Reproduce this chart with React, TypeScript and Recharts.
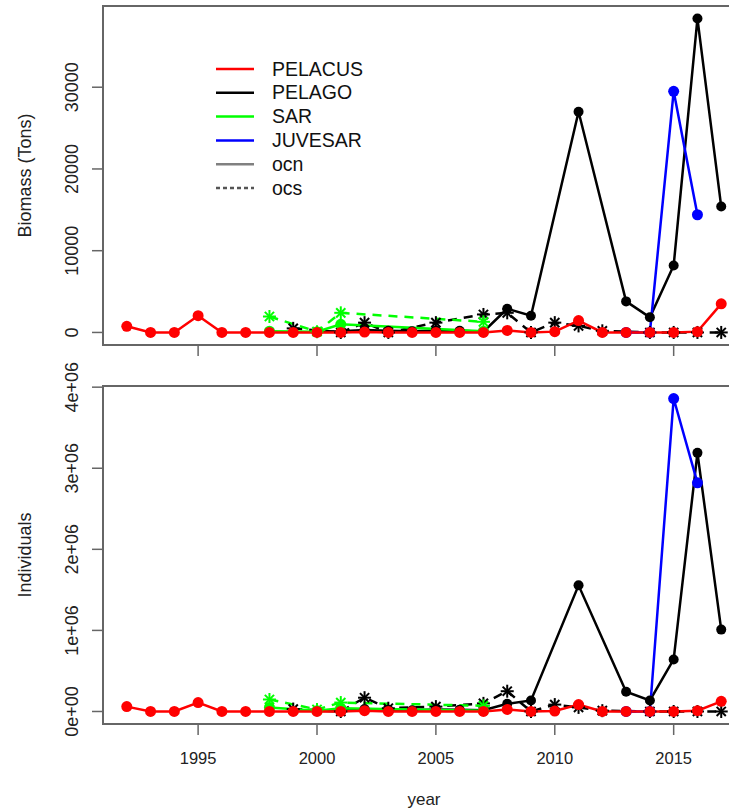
import React from 'react';
import { LineChart, Line, XAxis, YAxis, ReferenceArea, Legend, Label } from 'recharts';

const years = [1992, 1993, 1994, 1995, 1996, 1997, 1998, 1999, 2000, 2001, 2002, 2003, 2004,
  2005, 2006, 2007, 2008, 2009, 2010, 2011, 2012, 2013, 2014, 2015, 2016, 2017];
const yearTicks = [1995, 2000, 2005, 2010, 2015];

// Biomass (Tons)
const pelacusOcnBio = [750, 0, 0, 2050, 0, 0, 0, 0, 0, 0, 50, 0, 0, 0, 0, 0, 250, 0, 100, 1450, 0, 0, 0, 0, 100, 3500];
const pelagoOcnBio = [null, null, null, null, null, null, null, null, 50, 150, 300, 200, 150, 250, 200, 100, 2900, 2050, null, 27000, null, 3800, 1850, 8200, 38400, 15400];
const pelagoOcsBio = [null, null, null, null, null, null, null, 500, null, 0, 1200, 0, null, 1200, null, 2200, 2400, 0, 1200, 800, 200, null, 0, 0, 0, 0];
const sarOcnBio = [null, null, null, null, null, null, 150, null, 100, 1000, null, null, null, null, null, 150, null, null, null, null, null, null, null, null, null, null];
const sarOcsBio = [null, null, null, null, null, null, 1950, null, 100, 2400, null, null, null, null, null, 1300, null, null, null, null, null, null, null, null, null, null];
const juvesarOcnBio = [null, null, null, null, null, null, null, null, null, null, null, null, null, null, null, null, null, null, null, null, null, 0, 0, 29500, 14400, null];
const bioTicks = [0, 10000, 20000, 30000];

// Individuals
const pelacusOcnInd = [60000, 0, 0, 110000, 0, 0, 0, 0, 0, 0, 10000, 0, 0, 0, 0, 0, 25000, 0, 5000, 85000, 0, 0, 0, 0, 10000, 125000];
const pelagoOcnInd = [null, null, null, null, null, null, null, null, 5000, 10000, 30000, 20000, 15000, 25000, 20000, 15000, 95000, 136000, null, 1556000, null, 243000, 136000, 642000, 3190000, 1010000];
const pelagoOcsInd = [null, null, null, null, null, null, null, 30000, null, 0, 170000, 40000, null, 60000, null, 100000, 250000, 0, 85000, 50000, 10000, null, 0, 0, 0, 0];
const sarOcnInd = [null, null, null, null, null, null, 50000, null, 10000, 40000, null, null, null, null, null, 10000, null, null, null, null, null, null, null, null, null, null];
const sarOcsInd = [null, null, null, null, null, null, 148000, null, 25000, 110000, null, null, null, null, null, 70000, null, null, null, null, null, null, null, null, null, null];
const juvesarOcnInd = [null, null, null, null, null, null, null, null, null, null, null, null, null, null, null, null, null, null, null, null, null, 0, 0, 3860000, 2820000, null];
const indTicks = [0, 1000000, 2000000, 3000000, 4000000];

const FONT = '"Liberation Sans", Arial, sans-serif';
const RED = '#ff0000';
const BLACK = '#000000';
const GREEN = '#00ff00';
const BLUE = '#0000ff';
const AXIS = '#666666';

const legendItems = [
  { label: 'PELACUS', color: RED, dash: undefined },
  { label: 'PELAGO', color: BLACK, dash: undefined },
  { label: 'SAR', color: GREEN, dash: undefined },
  { label: 'JUVESAR', color: BLUE, dash: undefined },
  { label: 'ocn', color: '#808080', dash: undefined },
  { label: 'ocs', color: '#555555', dash: '4 3' },
];

function buildRows(series: Record<string, (number | null)[]>) {
  return years.map((year, i) => {
    const row: Record<string, number | null> = { year };
    Object.keys(series).forEach((k) => (row[k] = series[k][i]));
    return row;
  });
}

function paddedDomain(arrays: (number | null)[][]) {
  const vals = arrays.flat().filter((v) => v != null) as number[];
  const lo = Math.min(...vals);
  const hi = Math.max(...vals);
  const pad = (hi - lo) * 0.04;
  return [lo - pad, hi + pad];
}

const starDot = (color: string) => (props: any) => {
  const { cx, cy, index } = props;
  if (cx == null || cy == null) return <g key={`e-${index}`} />;
  const r = 6.5;
  const d = 4.6;
  return (
    <g key={`s-${index}`} stroke={color} strokeWidth={2}>
      <line x1={cx - r} y1={cy} x2={cx + r} y2={cy} />
      <line x1={cx} y1={cy - r} x2={cx} y2={cy + r} />
      <line x1={cx - d} y1={cy - d} x2={cx + d} y2={cy + d} />
      <line x1={cx - d} y1={cy + d} x2={cx + d} y2={cy - d} />
    </g>
  );
};

const circleDot = (color: string) => ({ r: 5.5, fill: color, stroke: color, strokeWidth: 0 });

const makeYTick = (fmt: (v: number) => string) => (props: any) => {
  const { x, y, payload } = props;
  return (
    <text transform={`translate(${x - 14}, ${y}) rotate(-90)`} textAnchor="middle"
      fontFamily={FONT} fontSize={18} fill="#222">
      {fmt(payload.value)}
    </text>
  );
};

const bioFmt = (v: number) => String(v);
const indFmt = (v: number) => (v === 0 ? '0e+00' : `${v / 1000000}e+06`);

const EmptyTick = () => <g />;

const YearTick = (props: any) => {
  const { x, y, payload } = props;
  return (
    <text x={x} y={y + 29} textAnchor="middle" fontFamily={FONT} fontSize={16.5} fill="#222">
      {payload.value}
    </text>
  );
};

const LegendBox = () => (
  <svg width={400} height={200} style={{ display: 'block' }}>
    {legendItems.map((item, i) => {
      const y = 69 + i * 23.8;
      return (
        <g key={item.label}>
          <line x1={216} x2={254} y1={y} y2={y} stroke={item.color} strokeWidth={2.5}
            strokeDasharray={item.dash} />
          <text x={272} y={y + 6.5} fontFamily={FONT} fontSize={19.5} fill="#111">{item.label}</text>
        </g>
      );
    })}
  </svg>
);

interface PanelProps {
  height: number;
  marginTop: number;
  xHeight: number;
  showYears: boolean;
  title: string;
  ticks: number[];
  fmt: (v: number) => string;
  series: Record<string, (number | null)[]>;
  legend?: boolean;
}

const Panel: React.FC<PanelProps> = ({ height, marginTop, xHeight, showYears, title, ticks, fmt, series, legend }) => {
  const data = buildRows(series);
  const yDomain = paddedDomain(Object.values(series));
  return (
    <LineChart width={760} height={height} data={data}
      margin={{ top: marginTop, right: 15, bottom: 0, left: 8 }}>
      <XAxis dataKey="year" type="number" domain={[1991, 2018]} ticks={yearTicks} interval={0}
        allowDataOverflow axisLine={false} tickSize={11} tickMargin={0} height={xHeight}
        tickLine={{ stroke: AXIS, strokeWidth: 1.5 }}
        tick={showYears ? YearTick : EmptyTick}>
        {showYears && (
          <Label content={(p: any) => (
            <text x={p.viewBox.x + p.viewBox.width / 2} y={p.viewBox.y + 81} textAnchor="middle"
              fontFamily={FONT} fontSize={17} fill="#222">year</text>
          )} />
        )}
      </XAxis>
      <YAxis type="number" domain={yDomain} ticks={ticks} interval={0} allowDataOverflow width={95}
        axisLine={false} tickSize={11} tickMargin={0} tickLine={{ stroke: AXIS, strokeWidth: 1.5 }}
        tick={makeYTick(fmt)}>
        <Label content={(p: any) => (
          <text transform={`translate(${p.viewBox.x + 23}, ${p.viewBox.y + p.viewBox.height / 2}) rotate(-90)`}
            textAnchor="middle" fontFamily={FONT} fontSize={18} fill="#222">{title}</text>
        )} />
      </YAxis>
      <ReferenceArea x1={1991} x2={2018} y1={yDomain[0]} y2={yDomain[1]} fill="none"
        stroke={AXIS} strokeWidth={2} ifOverflow="visible" />
      <Line dataKey="pelagoOcs" stroke={BLACK} strokeWidth={2.5} strokeDasharray="9 7" connectNulls
        dot={starDot(BLACK)} isAnimationActive={false} />
      <Line dataKey="pelagoOcn" stroke={BLACK} strokeWidth={2.5} connectNulls
        dot={{ r: 5, fill: BLACK, stroke: BLACK, strokeWidth: 0 }} isAnimationActive={false} />
      <Line dataKey="juvesarOcn" stroke={BLUE} strokeWidth={2.5} connectNulls
        dot={circleDot(BLUE)} isAnimationActive={false} />
      <Line dataKey="sarOcs" stroke={GREEN} strokeWidth={2.5} strokeDasharray="9 7" connectNulls
        dot={starDot(GREEN)} isAnimationActive={false} />
      <Line dataKey="sarOcn" stroke={GREEN} strokeWidth={2.5} connectNulls
        dot={circleDot(GREEN)} isAnimationActive={false} />
      <Line dataKey="pelacusOcn" stroke={RED} strokeWidth={2.5} connectNulls
        dot={circleDot(RED)} isAnimationActive={false} />
      {legend && (
        <Legend layout="vertical" align="center" verticalAlign="middle" content={LegendBox}
          wrapperStyle={{ left: 0, top: 0, width: 400, height: 200 }} />
      )}
    </LineChart>
  );
};

export default function App() {
  return (
    <div style={{ position: 'fixed', left: 0, top: 0, width: 729, height: 811, overflow: 'hidden', background: '#fff' }}>
      <Panel height={360} marginTop={6} xHeight={15} showYears={false} title="Biomass (Tons)"
        ticks={bioTicks} fmt={bioFmt} legend
        series={{
          pelacusOcn: pelacusOcnBio, pelagoOcn: pelagoOcnBio, pelagoOcs: pelagoOcsBio,
          sarOcn: sarOcnBio, sarOcs: sarOcsBio, juvesarOcn: juvesarOcnBio,
        }} />
      <Panel height={449} marginTop={26} xHeight={85} showYears title="Individuals"
        ticks={indTicks} fmt={indFmt}
        series={{
          pelacusOcn: pelacusOcnInd, pelagoOcn: pelagoOcnInd, pelagoOcs: pelagoOcsInd,
          sarOcn: sarOcnInd, sarOcs: sarOcsInd, juvesarOcn: juvesarOcnInd,
        }} />
    </div>
  );
}
